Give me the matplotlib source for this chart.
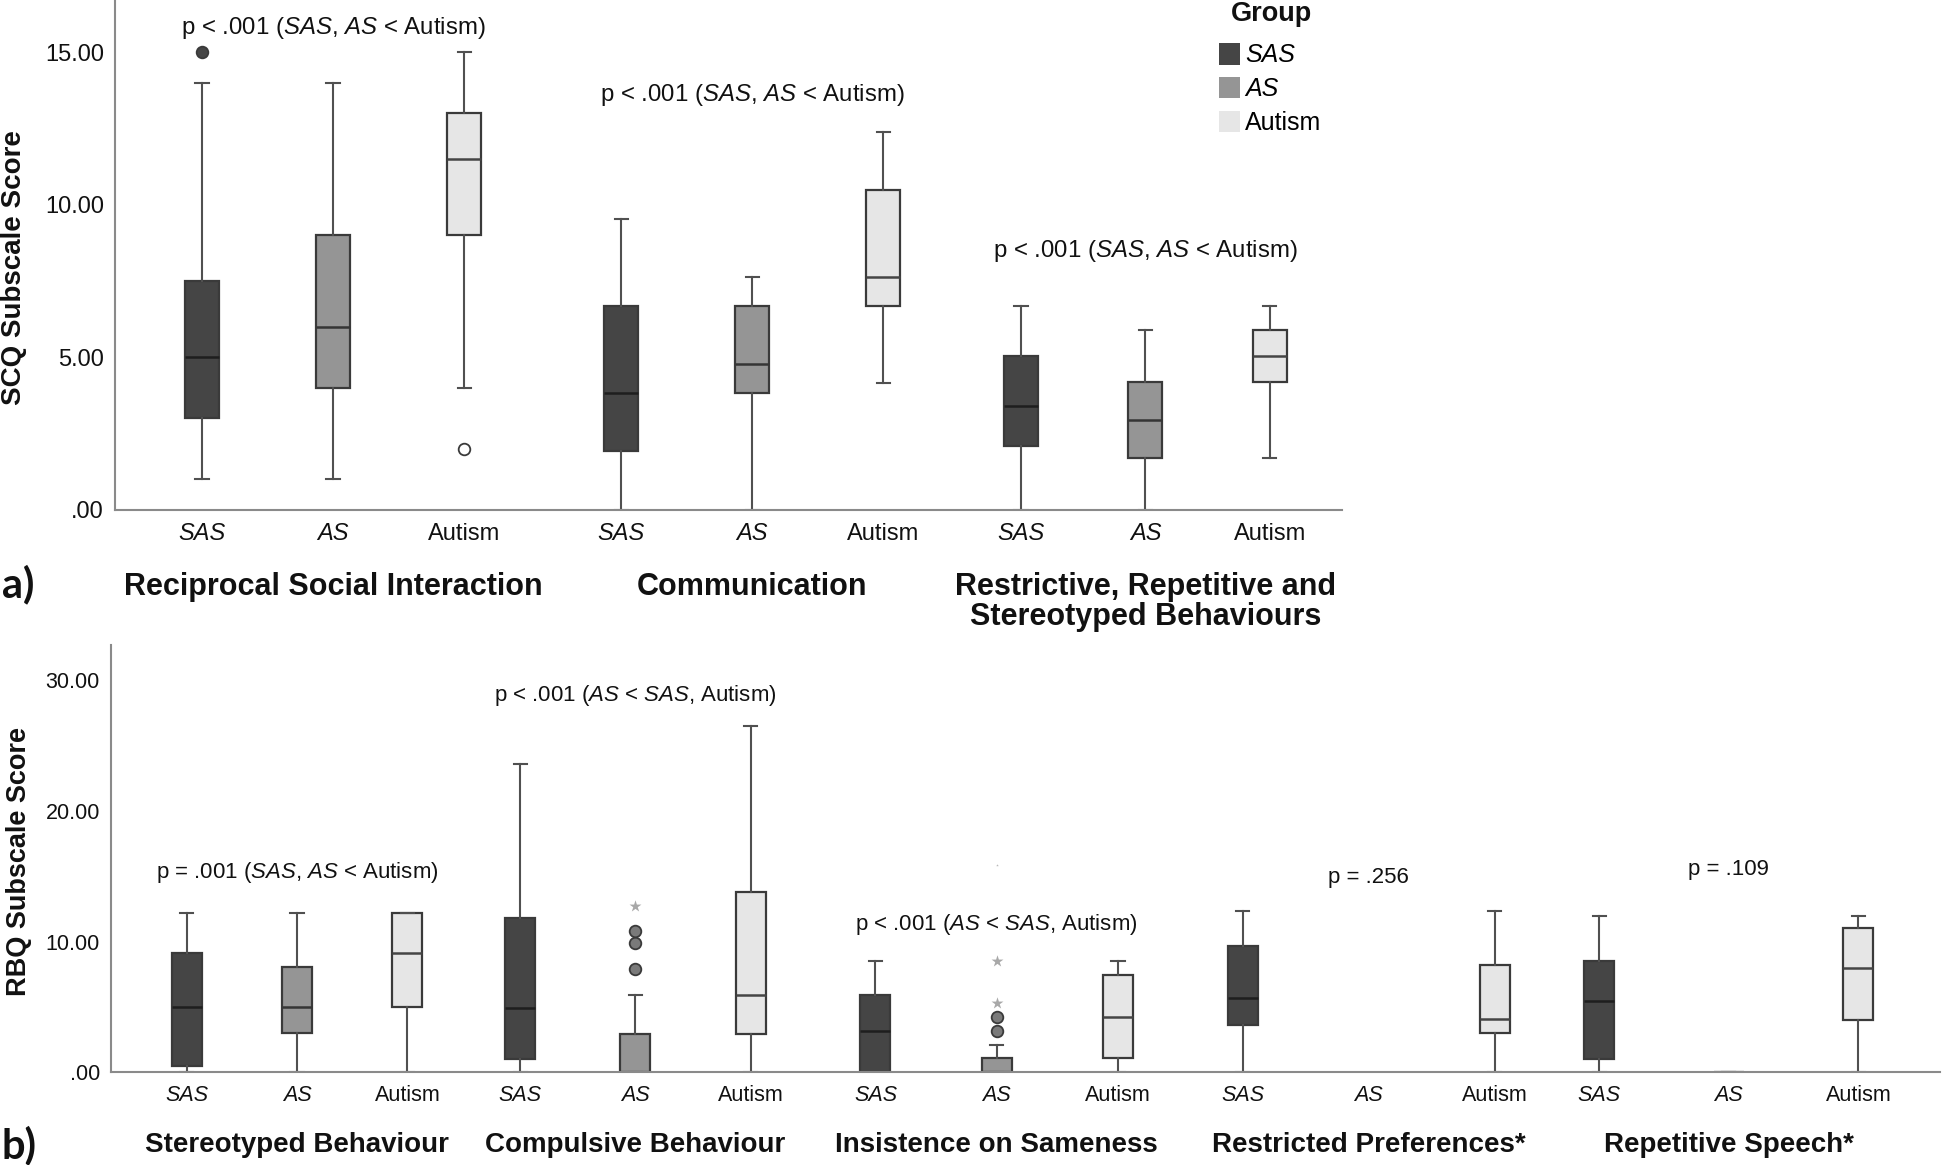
import matplotlib
matplotlib.use("Agg")
import matplotlib.pyplot as plt
from matplotlib.patches import Patch
from matplotlib.ticker import FuncFormatter, FixedLocator

plt.rcParams['font.family'] = ['Liberation Sans', 'DejaVu Sans']
plt.rcParams['mathtext.fontset'] = 'custom'
plt.rcParams['mathtext.rm'] = 'Liberation Sans'
plt.rcParams['mathtext.it'] = 'Liberation Sans:italic'
plt.rcParams['mathtext.bf'] = 'Liberation Sans:bold'

# ---------------- data ----------------
groups = ["SAS", "AS", "Autism"]
group_colors = ["#454545", "#959595", "#e6e6e6"]
median_colors = ["#1e1e1e", "#353535", "#454545"]

# Panel a: SCQ subscales (rows = subscale, cols = group)
scq_scales = ["Reciprocal Social Interaction", "Communication",
              "Restrictive, Repetitive and\nStereotyped Behaviours"]
scq_whislo = [[1.0, 1.0, 4.0], [0.0, 0.0, 4.15], [0.0, 0.0, 1.7]]
scq_q1 = [[3.0, 4.0, 9.0], [1.95, 3.85, 6.7], [2.1, 1.7, 4.2]]
scq_med = [[5.0, 6.0, 11.5], [3.85, 4.8, 7.65], [3.4, 2.95, 5.05]]
scq_q3 = [[7.5, 9.0, 13.0], [6.7, 6.7, 10.5], [5.05, 4.2, 5.9]]
scq_whishi = [[14.0, 14.0, 15.0], [9.55, 7.65, 12.4], [6.7, 5.9, 6.7]]
scq_circle_outliers = [(0, 0, 15.0), (0, 2, 2.0)]  # (subscale, group, value)
scq_ptext = [r"p < .001 ($\mathit{SAS}$, $\mathit{AS}$ < Autism)",
             r"p < .001 ($\mathit{SAS}$, $\mathit{AS}$ < Autism)",
             r"p < .001 ($\mathit{SAS}$, $\mathit{AS}$ < Autism)"]
scq_ptext_y = [15.8, 13.6, 8.5]
scq_yticks = [0, 5, 10, 15]

# Panel b: RBQ subscales (None = no box drawn)
rbq_scales = ["Stereotyped Behaviour", "Compulsive Behaviour", "Insistence on Sameness",
              "Restricted Preferences*", "Repetitive Speech*"]
rbq_whislo = [[0, 0, 0], [0, 0, 0], [0, 0, 0], [0, None, 0], [0, 0, 0]]
rbq_q1 = [[0.5, 3.0, 5.0], [1.0, 0.0, 2.95], [0.0, 0.0, 1.07], [3.6, None, 3.05], [1.0, 0.0, 4.0]]
rbq_med = [[5.0, 5.0, 9.1], [4.95, 0.0, 5.9], [3.2, 0.0, 4.25], [5.7, None, 4.1], [5.5, 0.0, 8.0]]
rbq_q3 = [[9.1, 8.1, 12.2], [11.85, 2.95, 13.8], [5.9, 1.07, 7.45], [9.7, None, 8.2], [8.5, 0.0, 11.05]]
rbq_whishi = [[12.2, 12.2, 12.2], [23.6, 5.9, 26.5], [8.5, 2.1, 8.5], [12.35, None, 12.35], [12.0, 0.0, 12.0]]
rbq_circle_outliers = [(1, 1, 7.9), (1, 1, 9.9), (1, 1, 10.8), (2, 1, 3.2), (2, 1, 4.25)]
rbq_star_outliers = [(1, 1, 12.7), (2, 1, 5.3), (2, 1, 8.5)]
rbq_speck_outliers = [(2, 1, 15.9)]
rbq_ptext = [r"p = .001 ($\mathit{SAS}$, $\mathit{AS}$ < Autism)",
             r"p < .001 ($\mathit{AS}$ < $\mathit{SAS}$, Autism)",
             r"p < .001 ($\mathit{AS}$ < $\mathit{SAS}$, Autism)",
             "p = .256", "p = .109"]
rbq_ptext_y = [15.3, 28.8, 11.3, 14.9, 15.5]
rbq_yticks = [0, 10, 20, 30]

# ---------------- layout ----------------
fig = plt.figure(figsize=(19.44, 11.65), dpi=100)
axA = fig.add_axes([115/1944, 1 - 510/1165, (1342-115)/1944, 510/1165])
axB = fig.add_axes([111/1944, 1 - 1072.4/1165, (1940-111)/1944, (1072.4-645)/1165])

edge = "#3a3a3a"
whisk = "#505050"
spine_col = "#8a8a8a"


def fmt(v, _):
    s = f"{v:.2f}"
    return s[1:] if s.startswith("0") else s


def draw_panel(ax, centers, steps, width, capw, whislo, q1, med, q3, whishi,
               circles, stars, specks, scales, ptext, ptext_y, yticks, ylim, xlim,
               fs_tick, fs_cat, fs_p, cat_offset):
    def pos(i, j):
        return centers[i] + (j - 1) * steps[i]

    positions, labels = [], []
    for i in range(len(centers)):
        for j in range(3):
            p = pos(i, j)
            positions.append(p)
            labels.append(groups[j])
            if med[i][j] is None:
                continue
            st = dict(med=med[i][j], q1=q1[i][j], q3=q3[i][j],
                      whislo=whislo[i][j], whishi=whishi[i][j], fliers=[])
            ax.bxp([st], positions=[p], widths=width, capwidths=capw,
                   patch_artist=True, showfliers=False, manage_ticks=False,
                   boxprops=dict(facecolor=group_colors[j], edgecolor=edge, linewidth=1.6),
                   medianprops=dict(color=median_colors[j], linewidth=1.8),
                   whiskerprops=dict(color=whisk, linewidth=1.5),
                   capprops=dict(color=whisk, linewidth=1.5))
    for (i, j, v) in circles:
        fc = "white" if j == 2 else ("#454545" if j == 0 else "#7a7a7a")
        ax.scatter([pos(i, j)], [v], s=70, marker="o", facecolor=fc, edgecolor="#3a3a3a",
                   linewidth=1.3, zorder=5)
    for (i, j, v) in stars:
        ax.scatter([pos(i, j)], [v], s=80, marker="*", color="#a8a8a8", linewidth=0, zorder=5)
    for (i, j, v) in specks:
        ax.scatter([pos(i, j)], [v], s=4, marker="*", color="#b8b8b8", linewidth=0, zorder=5)

    ax.set_xlim(*xlim)
    ax.set_ylim(*ylim)
    ax.set_xticks(positions)
    ax.set_xticklabels(labels, fontsize=fs_tick)
    for lbl in ax.get_xticklabels():
        if lbl.get_text() in ("SAS", "AS"):
            lbl.set_fontstyle("italic")
    ax.yaxis.set_major_locator(FixedLocator(yticks))
    ax.yaxis.set_major_formatter(FuncFormatter(fmt))
    ax.tick_params(axis="both", length=0, labelsize=fs_tick, colors="#111111")
    ax.tick_params(axis="x", pad=9)
    ax.tick_params(axis="y", pad=8)
    for s in ("top", "right"):
        ax.spines[s].set_visible(False)
    for s in ("left", "bottom"):
        ax.spines[s].set_color(spine_col)
        ax.spines[s].set_linewidth(1.5)
    ax.patch.set_alpha(0)

    for i, c in enumerate(centers):
        ax.annotate(scales[i], xy=(c, 0), xycoords=("data", "axes fraction"),
                    xytext=(0, cat_offset), textcoords="offset pixels",
                    ha="center", va="top", fontsize=fs_cat, fontweight="bold",
                    linespacing=1.0, color="#111111")
        ax.text(c, ptext_y[i], ptext[i], ha="center", va="center",
                fontsize=fs_p, color="#111111")


draw_panel(axA, [1.0, 4.2, 7.2], [1.0, 1.0, 0.95], 0.26, 0.1,
           scq_whislo, scq_q1, scq_med, scq_q3, scq_whishi,
           scq_circle_outliers, [], [], scq_scales, scq_ptext, scq_ptext_y,
           scq_yticks, (0, 16.72), (-0.664, 8.70), 17, 22, 17.3, -62)

draw_panel(axB, [1.0, 3.82, 6.83, 9.93, 12.93], [0.92, 0.96, 1.01, 1.05, 1.08], 0.25, 0.11,
           rbq_whislo, rbq_q1, rbq_med, rbq_q3, rbq_whishi,
           rbq_circle_outliers, rbq_star_outliers, rbq_speck_outliers,
           rbq_scales, rbq_ptext, rbq_ptext_y,
           rbq_yticks, (0, 32.7), (-0.55, 14.69), 15.5, 20, 16, -60)

# axis titles
fig.text(14/1944, 1 - 268/1165, "SCQ Subscale Score", rotation=90, ha="center",
         va="center", fontsize=20, fontweight="bold", color="#111111")
fig.text(19/1944, 1 - 862/1165, "RBQ Subscale Score", rotation=90, ha="center",
         va="center", fontsize=19.5, fontweight="bold", color="#111111")

# panel letters
fig.text(2/1944, 1 - 584/1165, "a)", ha="left", va="center", fontsize=30,
         fontweight="bold", family=["Lato", "DejaVu Sans"], color="#111111")
fig.text(2/1944, 1 - 1145/1165, "b)", ha="left", va="center", fontsize=30,
         fontweight="bold", family=["Lato", "DejaVu Sans"], color="#111111")

# legend
fig.text(1271/1944, 1 - 14/1165, "Group", ha="center", va="center",
         fontsize=19.5, fontweight="bold", color="#111111")
handles = [Patch(facecolor=c, edgecolor="none") for c in group_colors]
leg = fig.legend(handles, groups, loc="upper left",
                 bbox_to_anchor=(1219/1944, 1 - 43/1165), frameon=False, fontsize=18,
                 handlelength=0.85, handleheight=0.95, handletextpad=0.2,
                 labelspacing=0.38, borderpad=0, borderaxespad=0)
for t in leg.get_texts():
    if t.get_text() in ("SAS", "AS"):
        t.set_fontstyle("italic")

fig.savefig("out.png", dpi=100)
